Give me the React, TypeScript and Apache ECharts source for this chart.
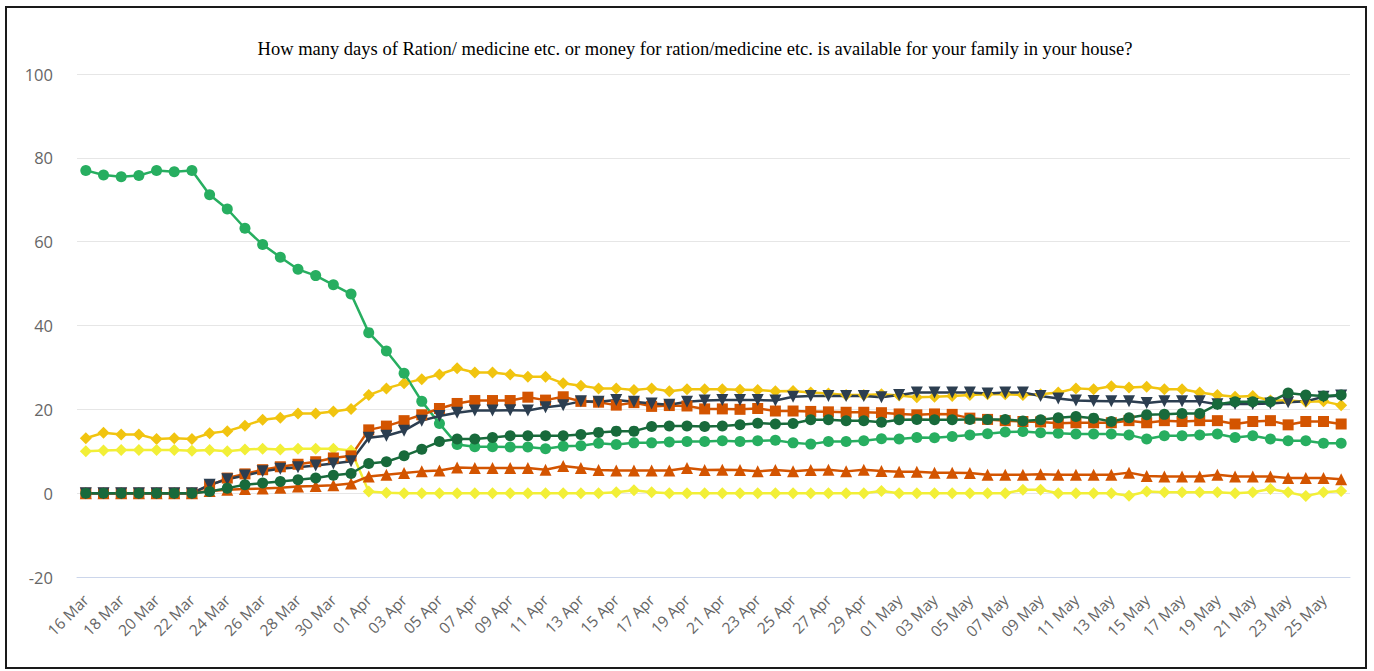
import React, { useEffect, useRef } from "react";
import * as echarts from "echarts";

const dates = [
  "16 Mar", "17 Mar", "18 Mar", "19 Mar", "20 Mar", "21 Mar", "22 Mar", "23 Mar", "24 Mar", "25 Mar",
  "26 Mar", "27 Mar", "28 Mar", "29 Mar", "30 Mar", "31 Mar",
  "01 Apr", "02 Apr", "03 Apr", "04 Apr", "05 Apr", "06 Apr", "07 Apr", "08 Apr", "09 Apr", "10 Apr",
  "11 Apr", "12 Apr", "13 Apr", "14 Apr", "15 Apr", "16 Apr", "17 Apr", "18 Apr", "19 Apr", "20 Apr",
  "21 Apr", "22 Apr", "23 Apr", "24 Apr", "25 Apr", "26 Apr", "27 Apr", "28 Apr", "29 Apr", "30 Apr",
  "01 May", "02 May", "03 May", "04 May", "05 May", "06 May", "07 May", "08 May", "09 May", "10 May",
  "11 May", "12 May", "13 May", "14 May", "15 May", "16 May", "17 May", "18 May", "19 May", "20 May",
  "21 May", "22 May", "23 May", "24 May", "25 May", "26 May",
];

const yTicks = { min: -20, max: 100, interval: 20 };

const lightGreen = [
  77.0, 75.9, 75.5, 75.8, 77.0, 76.7, 77.0, 71.2, 67.8, 63.2, 59.3, 56.3, 53.4, 51.9, 49.7, 47.5,
  38.3, 33.9, 28.6, 21.9, 16.6, 11.6, 11.1, 11.1, 11.0, 11.0, 10.6, 11.2, 11.3, 11.9,
  11.6, 12.0, 12.0, 12.2, 12.3, 12.3, 12.5, 12.3, 12.5, 12.6, 12.0, 11.7, 12.3, 12.3, 12.5, 13.0,
  12.9, 13.3, 13.2, 13.5, 13.9, 14.2, 14.6, 14.7, 14.4, 14.3, 14.1, 14.1, 14.1, 13.9, 12.9,
  13.7, 13.7, 13.9, 14.1, 13.3, 13.7, 12.9, 12.5, 12.5, 11.9, 11.9,
];

const amber = [
  13.1, 14.4, 14.0, 14.0, 12.9, 13.1, 12.9, 14.3, 14.8, 16.1, 17.5, 18.0, 19.0, 19.0, 19.5, 20.1,
  23.4, 25.0, 26.2, 27.2, 28.3, 29.8, 28.8, 28.8, 28.3, 27.8, 27.8, 26.2, 25.6, 25.0,
  25.0, 24.6, 25.0, 24.3, 24.8, 24.8, 24.8, 24.7, 24.6, 24.3, 24.4, 24.0, 23.8, 23.4, 23.4, 23.6,
  23.3, 22.9, 23.0, 23.2, 23.4, 23.6, 23.6, 23.4, 23.6, 24.0, 25.0, 24.8, 25.5, 25.2, 25.4,
  24.8, 24.8, 24.0, 23.4, 23.0, 23.2, 22.1, 22.1, 21.8, 21.9, 21.0,
];

const yellow = [
  10.0, 10.2, 10.3, 10.3, 10.3, 10.3, 10.1, 10.3, 10.0, 10.4, 10.6, 10.4, 10.6, 10.6, 10.6, 10.2,
  0.4, 0.1, 0.0, 0.0, 0.0, 0.0, 0.0, 0.0, 0.0, 0.0, 0.0, 0.0, 0.0, 0.0,
  0.2, 0.7, 0.2, 0.0, 0.0, 0.0, 0.0, 0.0, 0.0, 0.0, 0.0, 0.0, 0.0, 0.0, 0.0, 0.5,
  0.0, 0.0, 0.0, 0.0, 0.0, 0.0, 0.0, 0.8, 0.8, 0.0, 0.0, 0.0, 0.0, -0.6, 0.4,
  0.2, 0.2, 0.2, 0.2, 0.0, 0.2, 1.0, 0.2, -0.7, 0.2, 0.5,
];

const orangeSquares = [
  0, 0, 0, 0, 0, 0, 0, 1.8, 3.6, 4.6, 5.6, 6.3, 6.9, 7.5, 8.4, 8.9,
  15.1, 16.0, 17.3, 18.7, 20.2, 21.4, 22.1, 22.1, 22.1, 22.9, 22.2, 23.0, 21.9, 21.7,
  21.0, 21.6, 20.7, 20.9, 20.8, 20.1, 20.1, 20.0, 20.2, 19.6, 19.6, 19.5, 19.4, 19.3, 19.3, 19.2,
  18.9, 18.7, 18.9, 18.8, 17.9, 17.6, 17.3, 17.1, 17.0, 16.7, 16.8, 16.8, 16.8, 17.3, 16.8,
  17.3, 17.1, 17.3, 17.3, 16.5, 17.1, 17.3, 16.3, 17.1, 17.1, 16.5,
];

const navy = [
  0, 0, 0, 0, 0, 0, 0, 2.0, 3.3, 4.2, 5.2, 5.8, 6.2, 6.6, 7.1, 7.6,
  13.2, 13.7, 14.9, 17.3, 18.4, 19.2, 19.7, 19.7, 19.8, 19.7, 20.5, 21.0, 21.9, 21.8,
  22.2, 21.8, 21.4, 21.1, 21.8, 22.1, 22.2, 22.2, 22.2, 22.1, 23.0, 23.2, 23.2, 23.2, 23.2, 22.9,
  23.4, 24.0, 24.0, 24.0, 24.0, 23.8, 24.0, 24.0, 23.2, 22.6, 22.1, 22.0, 21.9, 21.9, 21.5,
  21.9, 21.9, 21.9, 21.2, 21.3, 21.3, 21.4, 21.7, 21.9, 23.0, 23.3,
];

const darkGreen = [
  0, 0, 0, 0, 0, 0, 0, 0.4, 1.2, 2.0, 2.4, 2.8, 3.2, 3.6, 4.3, 4.7,
  7.1, 7.5, 8.9, 10.5, 12.3, 12.9, 12.9, 13.3, 13.7, 13.7, 13.7, 13.7, 14.0, 14.5,
  14.8, 14.8, 15.9, 16.0, 16.0, 15.9, 16.0, 16.3, 16.7, 16.5, 16.6, 17.5, 17.5, 17.3, 17.3, 16.9,
  17.5, 17.6, 17.5, 17.5, 17.6, 17.6, 17.6, 17.2, 17.5, 18.0, 18.3, 17.9, 17.1, 18.0, 18.7,
  18.8, 19.0, 19.0, 21.2, 21.8, 21.8, 21.8, 23.9, 23.4, 23.2, 23.4,
];

const orangeTriangles = [
  0, 0, 0, 0, 0, 0, 0, 0.5, 0.8, 1.0, 1.1, 1.3, 1.6, 1.7, 1.9, 2.3,
  4.0, 4.4, 4.8, 5.2, 5.4, 6.1, 6.0, 6.0, 6.0, 6.0, 5.6, 6.5, 6.0, 5.5,
  5.4, 5.4, 5.4, 5.4, 6.0, 5.5, 5.6, 5.5, 5.2, 5.5, 5.2, 5.5, 5.6, 5.2, 5.6, 5.3,
  5.1, 5.1, 4.9, 4.9, 4.8, 4.4, 4.4, 4.4, 4.5, 4.4, 4.4, 4.4, 4.4, 4.9, 4.1,
  4.0, 4.0, 4.0, 4.4, 4.0, 4.0, 4.0, 3.6, 3.6, 3.6, 3.3,
];

const TITLE =
  "How many days of Ration/ medicine etc. or money for ration/medicine etc. is available for your family in your house?";

function mk(name: string, data: number[], color: string, symbol: string, size: number, rotate = 0) {
  return {
    name,
    type: "line",
    data,
    symbol,
    symbolSize: size,
    symbolRotate: rotate,
    showAllSymbol: true,
    itemStyle: { color },
    lineStyle: { color, width: 2.5 },
    emphasis: { disabled: true },
  };
}

export default function App() {
  const ref = useRef<HTMLDivElement>(null);
  useEffect(() => {
    if (!ref.current) return;
    const chart = echarts.init(ref.current, undefined, { renderer: "svg" });
    chart.setOption({
      animation: false,
      backgroundColor: "#ffffff",
      title: {
        text: TITLE,
        left: 690,
        textAlign: "center",
        top: 34,
        textStyle: {
          fontFamily: "Liberation Serif",
          fontWeight: "normal",
          fontSize: 18.5,
          color: "#000000",
        },
      },
      grid: { left: 77, right: 24, top: 74, bottom: 94, containLabel: false },
      xAxis: {
        type: "category",
        data: dates,
        boundaryGap: true,
        axisLine: { onZero: false, lineStyle: { color: "#ccd6eb", width: 1 } },
        axisTick: { show: false },
        axisLabel: {
          interval: 1,
          rotate: 45,
          color: "#666666",
          fontSize: 15.5,
          fontFamily: "Open Sans",
          margin: 20,
        },
        splitLine: { show: false },
      },
      yAxis: {
        type: "value",
        min: yTicks.min,
        max: yTicks.max,
        interval: yTicks.interval,
        axisLine: { show: false },
        axisTick: { show: false },
        axisLabel: { color: "#666666", fontSize: 16.5, fontFamily: "Open Sans", margin: 24 },
        splitLine: { lineStyle: { color: "#e6e6e6", width: 1 } },
      },
      series: [
        mk("Series 2", amber, "#f1c40f", "diamond", 12),
        mk("Series 3", yellow, "#f2ef37", "diamond", 12),
        mk("Series 1", lightGreen, "#27ae60", "circle", 11),
        mk("Series 7", orangeTriangles, "#d35400", "triangle", 12),
        mk("Series 4", orangeSquares, "#d35400", "rect", 11),
        mk("Series 5", navy, "#2c3e50", "triangle", 12, 180),
        mk("Series 6", darkGreen, "#186a3b", "circle", 11),
      ],
    });
    return () => chart.dispose();
  }, []);

  return (
    <>
      <div
        ref={ref}
        style={{ position: "fixed", left: 0, top: 0, width: 1374, height: 671 }}
      />
      <div
        style={{
          position: "fixed",
          left: 5,
          top: 6,
          width: 1362,
          height: 663,
          border: "2px solid #1a1a1a",
          boxSizing: "border-box",
          pointerEvents: "none",
        }}
      />
    </>
  );
}
